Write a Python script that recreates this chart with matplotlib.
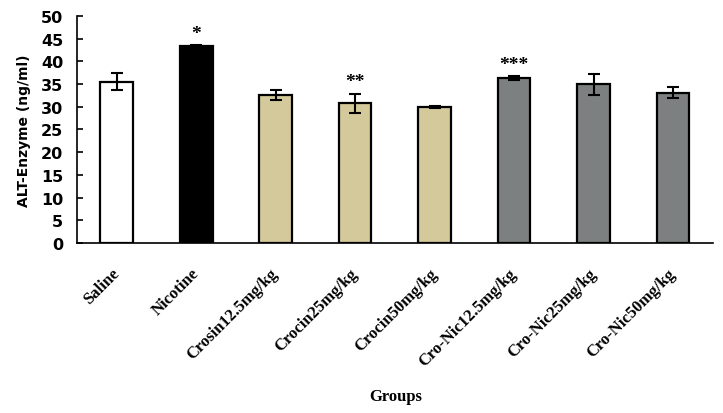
import numpy as np
import matplotlib
matplotlib.use("Agg")
import matplotlib.pyplot as plt

# ALT enzyme level per group (ng/ml)
groups = ["Saline", "Nicotine", "Crosin12.5mg/kg", "Crocin25mg/kg",
          "Crocin50mg/kg", "Cro-Nic12.5mg/kg", "Cro-Nic25mg/kg",
          "Cro-Nic50mg/kg"]
alt_mean = [35.5, 43.3, 32.6, 30.8, 29.9, 36.3, 35.0, 33.1]
alt_err = [1.9, 0.3, 1.2, 2.1, 0.2, 0.4, 2.3, 1.2]
sig_marks = ["", "*", "", "**", "", "***", "", ""]

bar_colors = ["#ffffff", "#000000", "#d3c99b", "#d3c99b", "#d3c99b",
              "#7c8080", "#7c8080", "#7c8080"]

fig = plt.figure(figsize=(7.23, 4.14), dpi=100)
ax = fig.add_axes([0.1065, 0.4106, 0.8795, 0.5484])

x = np.arange(len(groups))
ax.bar(x, alt_mean, width=0.41, color=bar_colors, edgecolor="black",
       linewidth=1.6, zorder=2)
ax.errorbar(x, alt_mean, yerr=alt_err, fmt="none", ecolor="black",
            elinewidth=1.5, capsize=4.5, capthick=1.5, zorder=3)

# significance stars above the error bars
for xi, m, e, s in zip(x, alt_mean, alt_err, sig_marks):
    if s:
        ax.text(xi, m + e + 2.6, s, ha="center", va="center",
                fontsize=14, fontweight="bold", family="Liberation Serif")

ax.set_xlim(-0.5, 7.5)
ax.set_ylim(0, 50)
ax.set_yticks(np.arange(0, 51, 5))
ax.spines["top"].set_visible(False)
ax.spines["right"].set_visible(False)
ax.spines["left"].set_linewidth(1.2)
ax.spines["bottom"].set_linewidth(1.2)

ax.tick_params(axis="y", direction="in", length=4, width=1.2, pad=10,
               labelsize=11.5)
for lab in ax.get_yticklabels():
    lab.set_fontweight("bold")
    lab.set_family("DejaVu Sans")

ax.set_xticks(x)
ax.set_xticklabels(groups, rotation=45, ha="right", va="center",
                   rotation_mode="anchor", fontsize=12, fontweight="bold",
                   family="Liberation Serif")
ax.tick_params(axis="x", length=0, pad=20)

ax.set_ylabel("ALT-Enzyme (ng/ml)", fontsize=10, fontweight="bold",
              family="DejaVu Sans", labelpad=7)
fig.text(0.547, 0.04, "Groups", ha="center", va="center", fontsize=12,
         fontweight="bold", family="Liberation Serif")

fig.savefig("out.png", dpi=100)
